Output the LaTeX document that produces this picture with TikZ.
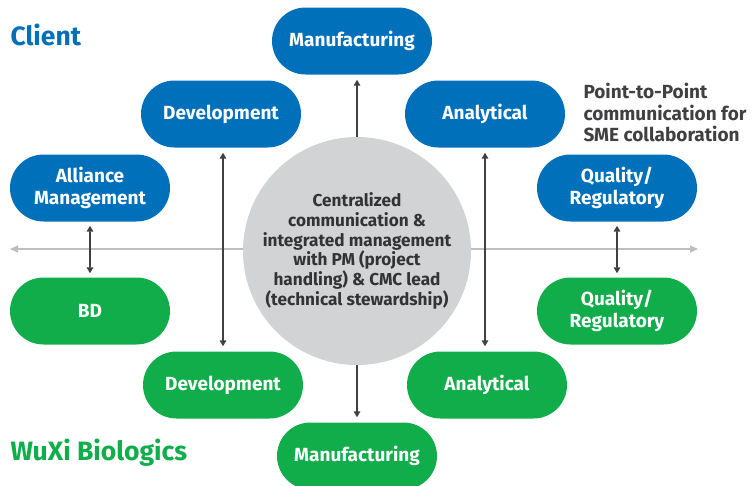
\documentclass[tikz,border=0pt]{standalone}
\usepackage{fontspec}
\setmainfont{Fira Sans}
\usetikzlibrary{shapes.misc, arrows.meta, positioning}
\definecolor{clientblue}{RGB}{0, 112, 187}
\definecolor{wuxigreen}{RGB}{16, 173, 74}
\definecolor{hubgray}{RGB}{210, 211, 213}
\definecolor{linkgray}{RGB}{64, 64, 66}
\definecolor{axisgray}{RGB}{190, 190, 192}

\begin{document}
\begin{tikzpicture}[
  x=1pt, y=-1pt,
  pill/.style={rounded rectangle, minimum width=160pt, minimum height=67pt, inner sep=0pt, text=white, align=center, font=\fontsize{19}{22}\selectfont\bfseries},
  cbox/.style={pill, fill=clientblue},
  wbox/.style={pill, fill=wuxigreen},
  link/.style={draw=linkgray, line width=1.6pt, -{Triangle[length=6pt,width=6.5pt]}},
  dlink/.style={link, {Triangle[length=6pt,width=6.5pt]}-{Triangle[length=6pt,width=6.5pt]}, shorten <=5pt, shorten >=5pt}
]
  \useasboundingbox (0,0) rectangle (754,485);

  % client / wuxi divide
  \coordinate (axisl) at (10,249);
  \coordinate (axisr) at (698,249);
  \draw[axisgray, line width=1.4pt, {Triangle[length=8pt,width=7pt]}-{Triangle[length=8pt,width=7pt]}] (axisl) -- (axisr);

  \node[anchor=west, text=clientblue, font=\fontsize{26.5}{26.5}\selectfont\bfseries] (client) at (7,35) {Client};
  \node[anchor=west, text=wuxigreen, font=\fontsize{26.5}{26.5}\selectfont\bfseries] (wuxi) at (7,453) {WuXi Biologics};
  \node[anchor=north west, align=left, text=linkgray, font=\fontsize{19}{21.5}\selectfont\bfseries] (p2p) at (580,80) {Point-to-Point\\communication for\\SME collaboration};

  \node[circle, fill=hubgray, minimum size=228pt, inner sep=0pt, align=center, text=black!80, font=\fontsize{17.2}{19.7}\selectfont\bfseries] (hub) at (357,251)
    {Centralized\\communication \&\\integrated management\\with PM (project\\handling) \& CMC lead\\(technical stewardship)};

  % client side
  \node[cbox] (cman) at (352,41) {Manufacturing};
  \node[cbox] (cdev) at (221,114) {Development};
  \node[cbox] (cana) at (485,114) {Analytical};
  \node[cbox] (call) at (90,188) {Alliance\\Management};
  \node[cbox] (cqa) at (617,188) {Quality/\\Regulatory};

  % wuxi side
  \node[wbox] (wbd) at (90,311) {BD};
  \node[wbox] (wqa) at (617,311) {Quality/\\Regulatory};
  \node[wbox] (wdev) at (223,385) {Development};
  \node[wbox] (wana) at (487,385) {Analytical};
  \node[wbox] (wman) at (357,456) {Manufacturing};

  \draw[link, shorten >=5pt] (hub.north) -- (hub.north |- cman.south);
  \draw[link, shorten >=5pt] (hub.south) -- (hub.south |- wman.north);
  \draw[dlink] (wdev.north |- cdev.south) -- (wdev.north);
  \draw[dlink] (cana.south) -- (cana.south |- wana.north);
  \draw[dlink, shorten <=4pt, shorten >=4pt] (call) -- (wbd);
  \draw[dlink, shorten <=4pt, shorten >=4pt] (cqa) -- (wqa);
\end{tikzpicture}
\end{document}
